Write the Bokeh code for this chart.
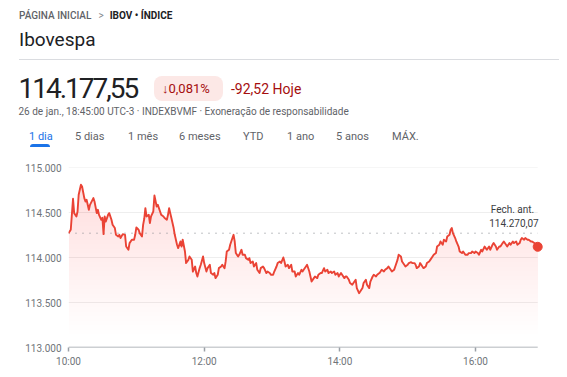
import numpy as np
from bokeh.plotting import figure
from bokeh.models import Div, FixedTicker, Label
from bokeh.layouts import column
from bokeh.embed import file_html
from bokeh.resources import INLINE

# ---------------- data ----------------
minutes_since_open = [
    0, 2, 4, 5, 7, 8, 9, 11, 12, 14,
    15, 16, 18, 19, 22, 23, 25, 26, 27, 29,
    30, 31, 32, 33, 35, 36, 38, 39, 41, 42,
    44, 45, 46, 48, 50, 51, 53, 54, 56, 58,
    59, 60, 62, 63, 65, 66, 67, 68, 69, 71,
    72, 73, 75, 76, 78, 79, 81, 82, 84, 85,
    87, 88, 89, 90, 91, 93, 94, 96, 97, 99,
    100, 101, 103, 104, 106, 107, 109, 110, 112, 113,
    114, 116, 117, 119, 120, 122, 123, 125, 126, 128,
    129, 130, 132, 133, 135, 136, 138, 139, 140, 142,
    143, 145, 146, 147, 148, 150, 151, 153, 154, 156,
    157, 159, 160, 161, 163, 164, 166, 167, 169, 170,
    172, 173, 175, 176, 178, 179, 181, 182, 184, 185,
    187, 188, 190, 191, 192, 194, 195, 197, 198, 200,
    201, 203, 204, 206, 207, 208, 210, 211, 213, 214,
    215, 217, 218, 220, 221, 223, 224, 226, 227, 229,
    230, 232, 233, 235, 236, 238, 239, 241, 242, 244,
    245, 246, 248, 249, 251, 252, 254, 255, 257, 258,
    260, 261, 263, 264, 266, 267, 269, 270, 272, 273,
    275, 276, 277, 279, 280, 282, 283, 285, 286, 288,
    289, 291, 292, 294, 295, 297, 298, 300, 301, 303,
    304, 306, 307, 308, 310, 311, 313, 314, 316, 317,
    319, 320, 322, 323, 325, 326, 328, 329, 331, 332,
    334, 335, 337, 338, 339, 340, 342, 343, 345, 346,
    348, 349, 351, 353, 354, 356, 357, 359, 360, 362,
    363, 365, 366, 368, 369, 370, 372, 373, 375, 376,
    378, 379, 381, 382, 384, 385, 387, 388, 390, 391,
    393, 394, 396, 397, 399, 400, 401, 403, 404, 406,
    407, 409, 410, 412, 413, 415,
]
index_values = [
    114271, 114308, 114652, 114493, 114456, 114511, 114697, 114808, 114789, 114660,
    114622, 114641, 114530, 114585, 114660, 114622, 114493, 114530, 114474, 114419,
    114441, 114260, 114456, 114400, 114474, 114493, 114419, 114363, 114327, 114252,
    114233, 114252, 114216, 114260, 114252, 114122, 114086, 114160, 114197, 114197,
    114252, 114333, 114308, 114271, 114233, 114363, 114430, 114549, 114456, 114474,
    114382, 114456, 114511, 114689, 114567, 114585, 114511, 114474, 114456, 114438,
    114419, 114474, 114549, 114493, 114438, 114327, 114252, 114141, 114104, 114178,
    114122, 114197, 114067, 113938, 113974, 114011, 113974, 113844, 113900, 113827,
    113789, 113882, 113919, 114011, 113938, 113844, 113882, 113919, 113827, 113808,
    113827, 113771, 113808, 113882, 113900, 113919, 113880, 113956, 114067, 114086,
    114141, 114216, 114252, 114178, 114049, 114011, 114030, 114086, 114030, 114030,
    113993, 113974, 113993, 113938, 113956, 113900, 113938, 113863, 113827, 113882,
    113900, 113882, 113827, 113844, 113827, 113808, 113808, 113844, 113900, 113938,
    113956, 113938, 114000, 113956, 113900, 113919, 113882, 113919, 113844, 113844,
    113789, 113827, 113808, 113863, 113844, 113863, 113900, 113919, 113844, 113789,
    113733, 113771, 113789, 113771, 113808, 113827, 113827, 113882, 113844, 113863,
    113827, 113844, 113827, 113844, 113808, 113827, 113789, 113827, 113808, 113771,
    113789, 113789, 113752, 113716, 113697, 113716, 113752, 113660, 113604, 113622,
    113660, 113716, 113752, 113697, 113660, 113733, 113789, 113808, 113789, 113808,
    113827, 113844, 113863, 113844, 113863, 113882, 113900, 113863, 113844, 113863,
    113900, 113974, 114030, 114011, 113956, 113919, 113900, 113919, 113938, 113949,
    113938, 113938, 113919, 113882, 113900, 113938, 113900, 113882, 113900, 113938,
    113956, 113974, 114011, 114030, 114049, 114122, 114141, 114178, 114141, 114197,
    114178, 114233, 114252, 114308, 114327, 114271, 114216, 114178, 114122, 114067,
    114049, 114067, 114030, 114030, 114049, 114049, 114067, 114049, 114067, 114049,
    114030, 114086, 114067, 114122, 114104, 114086, 114122, 114086, 114141, 114160,
    114122, 114086, 114122, 114122, 114160, 114178, 114141, 114122, 114160, 114141,
    114178, 114160, 114178, 114141, 114160, 114197, 114216, 114197, 114216, 114197,
    114197, 114178, 114178, 114160, 114141, 114119,
]
prev_close = 114270.07
prev_close_title = "Fech. ant."

x_ticks = [0, 120, 240, 360]
x_tick_labels = ["10:00", "12:00", "14:00", "16:00"]
y_ticks = [113000, 113500, 114000, 114500, 115000]
y_tick_labels = ["113.000", "113.500", "114.000", "114.500", "115.000"]

breadcrumb_home = "PÁGINA INICIAL"
breadcrumb_item = "IBOV • ÍNDICE"
title = "Ibovespa"
price_text = "114.177,55"
change_pct_text = "↓0,081%"
change_abs_text = "-92,52 Hoje"
info_text = "26 de jan., 18:45:00 UTC-3 · INDEXBVMF · Exoneração de responsabilidade"
periods = ["1 dia", "5 dias", "1 mês", "6 meses", "YTD", "1 ano", "5 anos", "MÁX."]

# ---------------- header ----------------
FONT = "Roboto, sans-serif"
RED = "#ea4335"
FILL = "#e8455a"
DARK_RED = "#a50e0e"


def txt(left, baseline, size, color, content, weight=400, extra=""):
    top = baseline - 0.845 * size
    return (f'<div style="position:absolute;left:{left}px;top:{top:.1f}px;'
            f'font-family:{FONT};font-size:{size}px;line-height:{size}px;color:{color};'
            f'font-weight:{weight};white-space:nowrap;{extra}">{content}</div>')


period_left = [21, 67, 120, 171, 235, 279, 328, 384]
parts = []
parts.append(txt(11, 11, 10, "#5f6368",
                 f'<span style="font-weight:500">{breadcrumb_home}</span>'
                 f'<span style="margin:0 6px 0 7px;color:#80868b">&gt;</span>'
                 f'<span style="font-weight:700;color:#202124">{breadcrumb_item}</span>'))
parts.append(txt(11, 37.7, 19, "#202124", title))
parts.append('<div style="position:absolute;left:11px;top:51px;width:540px;height:1px;background:#dadce0"></div>')
parts.append(txt(10.5, 91, 28, "#202124", price_text, extra="letter-spacing:-2px;"))
parts.append('<div style="position:absolute;left:146px;top:68px;width:69px;height:24.5px;'
             'border-radius:8px;background:#fce8e6"></div>')
parts.append(txt(154, 85.3, 13, DARK_RED, change_pct_text))
parts.append(txt(223, 85.3, 14, DARK_RED, change_abs_text))
parts.append(txt(10.5, 107.3, 10, "#5f6368", info_text))
for i, (lab, lx) in enumerate(zip(periods, period_left)):
    col = "#1a73e8" if i == 0 else "#5f6368"
    parts.append(txt(lx, 132, 11, col, lab))
parts.append('<div style="position:absolute;left:22px;top:135.5px;width:20px;height:3px;'
             'border-radius:3px 3px 0 0;background:#1a73e8"></div>')

header = Div(text='<div style="position:relative;left:3px;top:3px;width:548px;height:137px;">'
             + "".join(parts) + '</div>',
             width=551, height=140)

# ---------------- chart ----------------
x = np.array(minutes_since_open, dtype=float)
y = np.array(index_values, dtype=float)
x_end_pad = 6  # room so the closing dot is not clipped

p = figure(width=551, height=219, x_range=(x[0], x[-1] + x_end_pad),
           y_range=(y_ticks[0], y_ticks[-1]),
           output_backend="svg", toolbar_location=None,
           min_border_left=68, min_border_right=7, min_border_top=17, min_border_bottom=22)
p.outline_line_color = None
p.background_fill_color = "white"
p.border_fill_color = "white"
p.xgrid.grid_line_color = None
p.ygrid.grid_line_color = None

# horizontal grid lines ending at the last data point
grid_levels = y_ticks[1:]
p.segment(x0=[x[0]] * len(grid_levels), x1=[x[-1]] * len(grid_levels),
          y0=grid_levels, y1=grid_levels, line_color="#eeeeee", line_width=1)

# gradient-like fill under the line (stacked translucent layers)
for lvl in np.arange(113150, 114900, 50):
    p.varea(x=x, y1=np.minimum(lvl, y), y2=y, fill_color=FILL, fill_alpha=0.0085)

# previous close dotted line
p.segment(x0=[x[0]], x1=[x[-1]], y0=[prev_close], y1=[prev_close],
          line_color="#80868b", line_dash="1 6", line_width=1)

# base axis line
p.segment(x0=[x[0]], x1=[x[-1]], y0=[y_ticks[0]], y1=[y_ticks[0]],
          line_color="#9aa0a6", line_width=1.5)

p.line(x, y, line_color=RED, line_width=1.9, line_join="round")
p.scatter([x[-1]], [y[-1]], size=9, color=RED)

close_txt = f"{prev_close:,.2f}".replace(",", "X").replace(".", ",").replace("X", ".")
p.add_layout(Label(x=x[-1], y=prev_close, text=close_txt, text_align="right",
                   x_offset=1, y_offset=6, text_font_size="10px", text_color="#3c4043",
                   text_font="Roboto"))
p.add_layout(Label(x=x[-1], y=prev_close, text=prev_close_title, text_align="left",
                   x_offset=-47, y_offset=18, text_font_size="10px", text_color="#3c4043",
                   text_font="Roboto"))

p.yaxis.ticker = FixedTicker(ticks=y_ticks)
p.yaxis.major_label_overrides = dict(zip(y_ticks, y_tick_labels))
p.yaxis.axis_line_color = None
p.yaxis.major_tick_line_color = None
p.yaxis.minor_tick_line_color = None
p.yaxis.major_tick_out = 0
p.yaxis.major_tick_in = 0
p.yaxis.major_label_standoff = 7
p.yaxis.major_label_text_font_size = "10px"
p.yaxis.major_label_text_color = "#70757a"
p.yaxis.major_label_text_font = "Roboto"

p.xaxis.ticker = FixedTicker(ticks=x_ticks)
p.xaxis.major_label_overrides = dict(zip(x_ticks, x_tick_labels))
p.xaxis.axis_line_color = None
p.xaxis.major_tick_line_color = "#9aa0a6"
p.xaxis.major_tick_line_width = 1.5
p.xaxis.major_tick_out = 4
p.xaxis.major_tick_in = 0
p.xaxis.minor_tick_line_color = None
p.xaxis.major_label_standoff = 4
p.xaxis.major_label_text_font_size = "10px"
p.xaxis.major_label_text_color = "#70757a"
p.xaxis.major_label_text_font = "Roboto"

layout = column(header, p, spacing=0)
open("out.html", "w").write(file_html(layout, INLINE))
